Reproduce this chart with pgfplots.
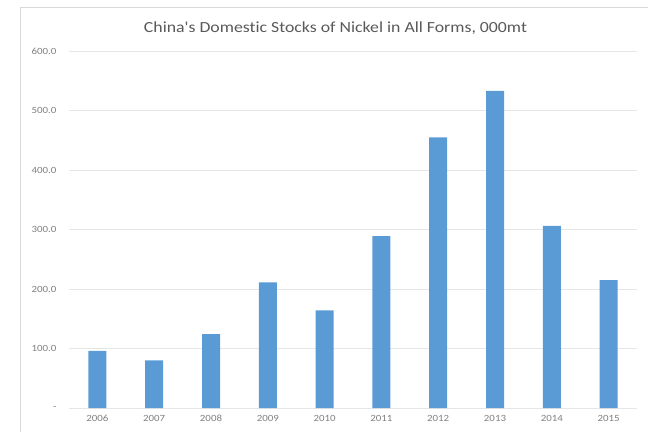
\documentclass[border=0pt]{standalone}
\usepackage{pgfplots}
\pgfplotsset{compat=1.18}
\usepackage{fontspec}
\setmainfont{Carlito}[FakeStretch=1.15, Ligatures=NoCommon]
\newfontfamily\titlefont{Carlito}[FakeStretch=1.15, Ligatures=NoCommon]

\definecolor{barblue}{HTML}{5B9BD5}
\definecolor{gridgray}{HTML}{E6E6E6}
\definecolor{framegray}{HTML}{D9D9D9}
\definecolor{labelgray}{HTML}{7F7F7F}
\definecolor{titlegray}{HTML}{595959}

\begin{document}
\begin{tikzpicture}[x=1bp,y=1bp]
\useasboundingbox (0,0) rectangle (648,432);
\draw[framegray, line width=1bp] (20.5,0) -- (20.5,424.5) -- (648,424.5);
\node[text=titlegray, font=\titlefont\fontsize{15.5}{17}\selectfont] at (335.5,404) {China's Domestic Stocks of Nickel in All Forms, 000mt};
\begin{axis}[
  at={(69bp,24bp)}, anchor=south west,
  scale only axis, width=568bp, height=357bp,
  ymin=0, ymax=600, xmin=-0.5, xmax=9.5,
  ytick={0,100,200,300,400,500,600},
  yticklabels={-\hspace{6bp},100.0,200.0,300.0,400.0,500.0,600.0},
  xtick={0,1,2,3,4,5,6,7,8,9},
  xticklabels={2006,2007,2008,2009,2010,2011,2012,2013,2014,2015},
  major tick length=0pt,
  axis line style={draw=none},
  ymajorgrids, grid style={gridgray, line width=0.8bp},
  yticklabel style={font=\fontsize{9.5}{10}\selectfont, text=labelgray, xshift=-9bp},
  xticklabel style={font=\fontsize{9.5}{10}\selectfont, text=labelgray, yshift=-4bp},
  clip=false,
]
\addplot[ybar, bar width=18bp, fill=barblue, draw=none] coordinates {
  (0,96) (1,80) (2,124) (3,211) (4,164) (5,289) (6,455) (7,533) (8,306) (9,215)
};
\end{axis}
\end{tikzpicture}
\end{document}
